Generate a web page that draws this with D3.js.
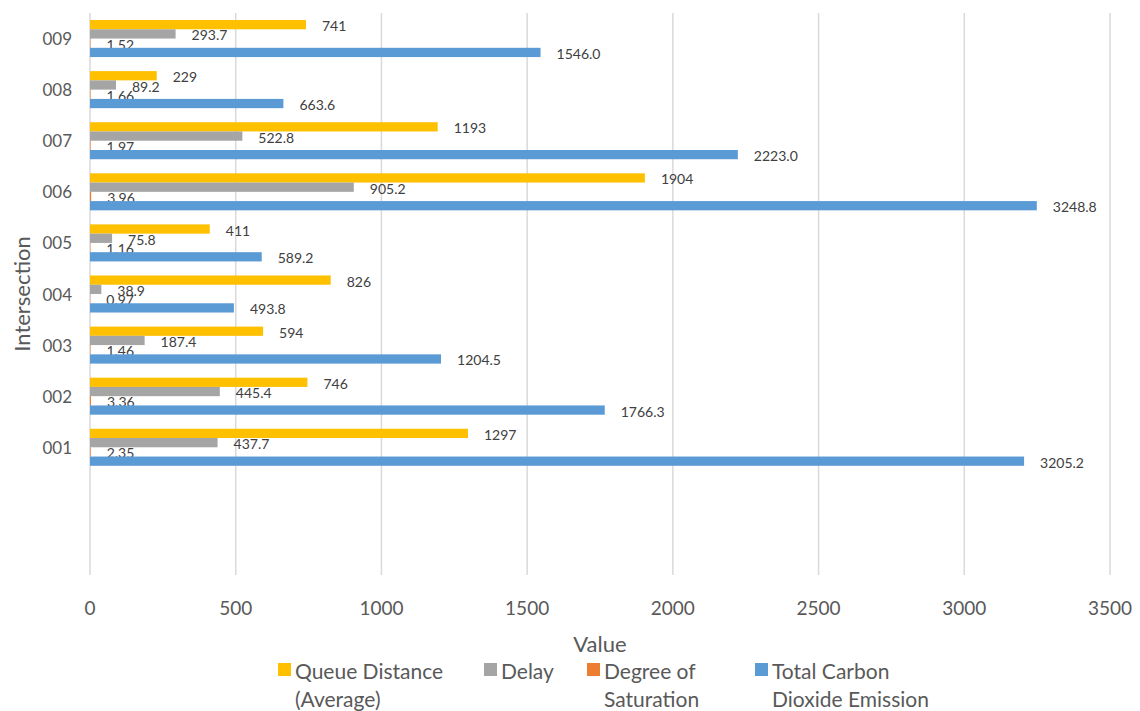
<!DOCTYPE html>
<html>
<head>
<meta charset="utf-8">
<script src="https://cdn.jsdelivr.net/npm/d3@7"></script>
<style>
  body { margin: 0; background: #fff; }
  svg { display: block; font-family: Lato, "Open Sans", sans-serif; }
</style>
</head>
<body>
<svg id="chart" width="1140" height="711"></svg>
<script>
// categories, bottom to top (two empty slots sit below 001 in the original)
var categories = ["001", "002", "003", "004", "005", "006", "007", "008", "009"];
var emptySlots = ["_a", "_b"];

var queueDistance = [1297, 746, 594, 826, 411, 1904, 1193, 229, 741];
var delay = [437.7, 445.4, 187.4, 38.9, 75.8, 905.2, 522.8, 89.2, 293.7];
var saturation = [2.35, 3.36, 1.46, 0.97, 1.16, 3.96, 1.97, 1.66, 1.52];
var co2 = [3205.2, 1766.3, 1204.5, 493.8, 589.2, 3248.8, 2223.0, 663.6, 1546.0];

var seriesNames = ["Queue Distance (Average)", "Delay", "Degree of Saturation", "Total Carbon Dioxide Emission"];
var xTicks = [0, 500, 1000, 1500, 2000, 2500, 3000, 3500];

var series = [
    { name: seriesNames[0], values: queueDistance, color: "#ffc000", fmt: d3.format(".0f"),
      legend: ["Queue Distance", "(Average)"] },
    { name: seriesNames[1], values: delay, color: "#a5a5a5", fmt: d3.format(".1f"),
      legend: ["Delay"] },
    { name: seriesNames[2], values: saturation, color: "#ed7d31", fmt: d3.format(".2f"),
      legend: ["Degree of", "Saturation"] },
    { name: seriesNames[3], values: co2, color: "#5b9bd5", fmt: d3.format(".1f"),
      legend: ["Total Carbon", "Dioxide Emission"] }
];

var svg = d3.select("#chart");
var plotLeft = 90, plotRight = 1110, plotTop = 13, plotBottom = 575;

var x = d3.scaleLinear().domain([0, 3500]).range([plotLeft, plotRight]);

// top to bottom: 009 ... 001, then empty slots
var yDomain = categories.slice().reverse().concat(emptySlots);
var gap = 0.275;
var y = d3.scaleBand().domain(yDomain).range([plotTop, plotBottom])
    .paddingInner(gap).paddingOuter(gap / 2);
var ySub = d3.scaleBand().domain(d3.range(series.length)).range([0, y.bandwidth()]);

// gridlines
svg.append("g").selectAll("line").data(xTicks).join("line")
    .attr("x1", d => x(d)).attr("x2", d => x(d))
    .attr("y1", plotTop).attr("y2", plotBottom)
    .attr("stroke", "#d9d9d9").attr("stroke-width", 1.5);

// x tick labels
svg.append("g").selectAll("text").data(xTicks).join("text")
    .attr("x", d => x(d)).attr("y", 607)
    .attr("text-anchor", "middle").attr("dominant-baseline", "central")
    .attr("fill", "#595959").style("font-size", "19px")
    .text(d => d);

// y tick labels
svg.append("g").selectAll("text").data(categories).join("text")
    .attr("x", 72).attr("y", d => y(d) + y.bandwidth() / 2)
    .attr("text-anchor", "end").attr("dominant-baseline", "central")
    .attr("fill", "#595959").style("font-size", "17px")
    .text(d => d);

// bars + labels
series.forEach(function (s, si) {
    var g = svg.append("g");
    var data = categories.map((c, i) => ({ cat: c, v: s.values[i] }));
    g.selectAll("rect").data(data).join("rect")
        .attr("x", x(0))
        .attr("y", d => y(d.cat) + ySub(si))
        .attr("width", d => x(d.v) - x(0))
        .attr("height", ySub.bandwidth())
        .attr("fill", s.color);
    g.selectAll("text").data(data).join("text")
        .attr("x", d => x(d.v) + 16)
        .attr("y", d => y(d.cat) + ySub(si) + ySub.bandwidth() / 2 + 1)
        .attr("dominant-baseline", "central")
        .attr("fill", "#404040").style("font-size", "14px")
        .text(d => s.fmt(d.v));
});

// axis titles
svg.append("text")
    .attr("x", (plotLeft + plotRight) / 2).attr("y", 643)
    .attr("text-anchor", "middle").attr("dominant-baseline", "central")
    .attr("fill", "#595959").style("font-size", "22px")
    .text("Value");

svg.append("text")
    .attr("transform", "translate(21," + ((plotTop + plotBottom) / 2) + ") rotate(-90)")
    .attr("text-anchor", "middle").attr("dominant-baseline", "central")
    .attr("fill", "#595959").style("font-size", "22px")
    .text("Intersection");

// legend
var legendX = [278, 484, 587, 755];
var legend = svg.append("g");
series.forEach(function (s, i) {
    legend.append("rect")
        .attr("x", legendX[i]).attr("y", 663)
        .attr("width", 13).attr("height", 13)
        .attr("fill", s.color);
    s.legend.forEach(function (line, li) {
        legend.append("text")
            .attr("x", legendX[i] + 17).attr("y", 670 + li * 28)
            .attr("dominant-baseline", "central")
            .attr("fill", "#595959").style("font-size", "21px")
            .text(line);
    });
});
</script>
</body>
</html>
